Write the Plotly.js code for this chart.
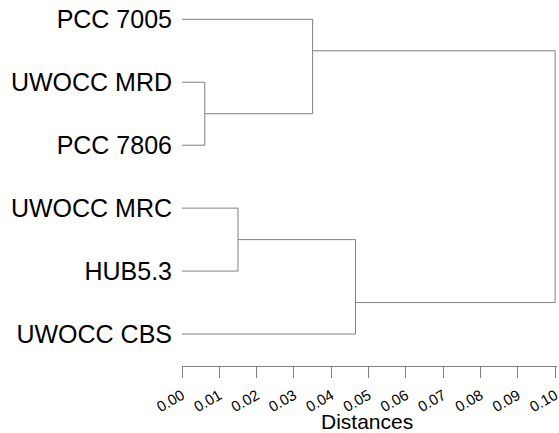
<!DOCTYPE html>
<html>
<head>
<meta charset="utf-8">
<script src="https://cdn.plot.ly/plotly-3.0.1.min.js"></script>
<style>html,body{margin:0;padding:0;background:#fff;}#chart{width:559px;height:433px;}</style>
</head>
<body>
<div id="chart"></div>
<script>
// Leaves, top to bottom
const leafLabels = ['PCC 7005', 'UWOCC MRD', 'PCC 7806', 'UWOCC MRC', 'HUB5.3', 'UWOCC CBS'];
// Linkage: node ids 0..5 are leaves; each merge creates node 6, 7, ...
const mergeLeft   = [1, 3, 0, 7, 8];
const mergeRight  = [2, 4, 6, 5, 9];
const mergeHeight = [0.0061, 0.0150, 0.0350, 0.0465, 0.1000];
const distanceTicks = [0, 0.01, 0.02, 0.03, 0.04, 0.05, 0.06, 0.07, 0.08, 0.09, 0.10];
const axisTitle = 'Distances';

const n = leafLabels.length;
const nodeX = [], nodeY = [], firstLeaf = [], lastLeaf = [];
for (let i = 0; i < n; i++) { nodeX[i] = 0; nodeY[i] = i; firstLeaf[i] = i; lastLeaf[i] = i; }
const xs = [], ys = [];
for (let k = 0; k < mergeHeight.length; k++) {
  const a = mergeLeft[k], b = mergeRight[k], h = mergeHeight[k], id = n + k;
  xs.push(nodeX[a], h, null); ys.push(nodeY[a], nodeY[a], null);
  xs.push(nodeX[b], h, null); ys.push(nodeY[b], nodeY[b], null);
  xs.push(h, h, null); ys.push(nodeY[a], nodeY[b], null);
  nodeX[id] = h;
  firstLeaf[id] = Math.min(firstLeaf[a], firstLeaf[b]);
  lastLeaf[id] = Math.max(lastLeaf[a], lastLeaf[b]);
  nodeY[id] = (lastLeaf[a] + firstLeaf[b]) / 2;
}

const trace = {
  x: xs, y: ys, mode: 'lines', type: 'scatter',
  line: {color: '#808080', width: 1}, hoverinfo: 'skip', showlegend: false
};

const layout = {
  width: 559, height: 433,
  margin: {l: 182, r: 2, t: 0, b: 67},
  paper_bgcolor: '#ffffff', plot_bgcolor: '#ffffff',
  font: {family: 'Liberation Sans, Arial, sans-serif', color: '#000'},
  xaxis: {
    range: [0, 0.1005], showgrid: false, zeroline: false,
    showline: true, linecolor: '#808080', linewidth: 1,
    ticks: 'outside', ticklen: 11, tickcolor: '#808080', tickwidth: 1,
    tickvals: distanceTicks, tickformat: '.2f', tickangle: -30,
    ticklabeloverflow: 'allow', ticklabelstandoff: 3,
    tickfont: {size: 15, color: '#000'}
  },
  yaxis: {
    range: [5.508, -0.307], showgrid: false, zeroline: false, showline: false,
    tickvals: leafLabels.map((_, i) => i), ticktext: leafLabels,
    ticks: '', ticklabelstandoff: 9,
    tickfont: {size: 25, color: '#000'}
  },
  annotations: [{
    text: axisTitle, xref: 'paper', yref: 'paper', x: 0.5, y: 0,
    xanchor: 'center', yanchor: 'middle', xshift: -3, yshift: -55,
    showarrow: false, font: {size: 21, color: '#000'}
  }]
};

Plotly.newPlot('chart', [trace], layout, {displayModeBar: false, staticPlot: true});
</script>
</body>
</html>
